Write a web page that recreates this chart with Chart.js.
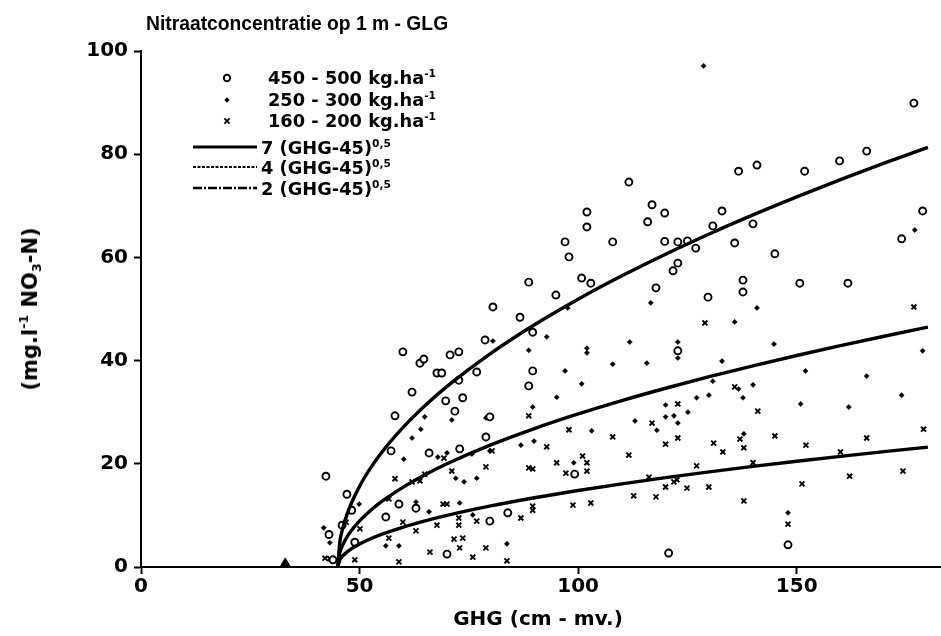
<!DOCTYPE html>
<html lang="nl">
<head>
  <meta charset="UTF-8" />
  <title>Nitraatconcentratie op 1 m - GLG</title>
  <style>
    body { margin: 0; background: #fff; }
    #wrap { position: relative; width: 941px; height: 636px; color: #000; }
    canvas { position: absolute; left: 0; top: 0; }
    .lbl { position: absolute; white-space: nowrap; font-weight: bold; line-height: 18px; }
    .title { font-family: "Liberation Sans", Arial, sans-serif; font-size: 19.3px; left: 146px; top: 15px; }
    .leg { font-family: "DejaVu Sans", sans-serif; font-size: 17.8px; }
    .axt { font-family: "DejaVu Sans", sans-serif; font-size: 20px; }
    sup { font-size: 0.6em; vertical-align: 0.7em; line-height: 0; }
    sub { font-size: 0.6em; vertical-align: -0.3em; line-height: 0; }
    .legsvg { position: absolute; left: 185px; top: 60px; }
  </style>
</head>
<body>
<div id="wrap">
  <canvas id="chart" width="941" height="636"></canvas>

  <div class="lbl title">Nitraatconcentratie op 1 m - GLG</div>

  <svg class="legsvg" width="80" height="140">
    <circle cx="42" cy="18" r="3.2" fill="#fff" stroke="#000" stroke-width="1.9"/>
    <path d="M42 37.3 L44.6 40 L42 42.7 L39.4 40 Z" fill="#000"/>
    <path d="M39.4 58.4 L44.6 63.6 M44.6 58.4 L39.4 63.6" stroke="#000" stroke-width="1.9"/>
    <line x1="8" y1="87" x2="72" y2="87" stroke="#000" stroke-width="3"/>
    <line x1="8" y1="107" x2="72" y2="107" stroke="#000" stroke-width="2" stroke-dasharray="3 1.5"/>
    <line x1="8" y1="128" x2="72" y2="128" stroke="#000" stroke-width="2.5" stroke-dasharray="9 2 2 2"/>
  </svg>
  <div class="lbl leg" style="left:268px; top:69px">450 - 500 kg.ha<sup>-1</sup></div>
  <div class="lbl leg" style="left:268px; top:91px">250 - 300 kg.ha<sup>-1</sup></div>
  <div class="lbl leg" style="left:268px; top:112px">160 - 200 kg.ha<sup>-1</sup></div>
  <div class="lbl leg" style="left:261px; top:139px">7 (GHG-45)<sup>0,5</sup></div>
  <div class="lbl leg" style="left:261px; top:159px">4 (GHG-45)<sup>0,5</sup></div>
  <div class="lbl leg" style="left:261px; top:180px">2 (GHG-45)<sup>0,5</sup></div>

  <div class="lbl axt" style="left:438px; width:200px; text-align:center; top:609px">GHG (cm - mv.)</div>
  <div class="lbl axt" style="left:30px; top:309px; font-size:21px; transform: translate(-50%, -50%) rotate(-90deg);">(mg.l<sup>-1</sup> NO<sub>3</sub>-N)</div>
</div>

<script src="https://cdn.jsdelivr.net/npm/chart.js"></script>
<script>
  // axis ticks
  const xTicks = [0, 50, 100, 150];
  const yTicks = [0, 20, 40, 60, 80, 100];

  // 450 - 500 kg.ha-1 (open circles)
  const pts450 = [
    [42.3,17.6],[43,6.3],[43.9,1.4],[46,8.1],[47.1,14.1],[48.2,11.0],[48.9,4.8],[56,9.7],[57.2,22.5],
    [58.1,29.3],[59,12.2],[59.9,41.7],[62,33.9],[62.9,11.4],[63.8,39.5],[64.7,40.3],[65.9,22.1],
    [67.7,37.6],[68.8,37.6],[69.7,32.2],[70,2.5],[70.7,41.1],[71.8,30.2],[72.7,41.7],[72.7,36.2],
    [72.9,22.9],[73.6,32.8],[76.8,37.8],[78.7,44],[78.9,25.2],[79.8,29.1],[79.8,8.9],[80.5,50.4],
    [83.9,10.5],[86.7,48.4],[88.7,55.2],[88.7,35.1],[89.6,45.5],[89.6,38],[94.9,52.7],[97,63],
    [97.9,60.1],[99.2,18],[100.8,56],[102,68.8],[102,65.9],[102.9,55],[107.9,63],[111.6,74.6],
    [115.9,66.9],[116.9,70.2],[117.8,54.1],[119.8,68.6],[119.8,63.1],[120.7,2.7],[121.7,57.4],
    [122.8,63],[122.8,58.9],[122.8,41.9],[125,63.2],[126.9,61.8],[129.7,52.3],[130.8,66.1],
    [132.9,69],[135.8,62.8],[136.7,76.7],[137.7,55.6],[137.7,53.3],[140,66.5],[140.9,77.9],
    [145,60.7],[148,4.3],[150.7,55],[151.8,76.7],[159.8,78.7],[161.7,55],[166,80.6],[174,63.6],
    [176.8,89.9],[178.8,69]
  ];

  // 250 - 300 kg.ha-1 (small dots)
  const pts250 = [
    [41.8,7.6],[43.2,4.7],[49.9,12.2],[56,4.1],[59,4.1],[60.1,20.9],[62,25],[62.9,12.6],[64,26.7],
    [64.9,29.1],[65.9,10.7],[67.9,21.3],[70,22.1],[71.1,28.5],[72,17.2],[72.9,12.4],[73.9,16.5],
    [75.7,21.9],[75.9,10.1],[76.8,17.2],[78.9,28.9],[79.8,22.5],[80.5,43.8],[83.7,4.5],[86.9,23.6],
    [88.7,42],[89.6,31],[89.9,24.4],[92.8,44.6],[95.1,32.9],[97,38],[97.6,50.2],[99,20.2],
    [100.8,35.5],[102,42.4],[102,41.5],[103.1,26.4],[107.9,39.3],[111.8,43.6],[113,28.3],
    [115.7,39.5],[116.6,51.2],[118,26.5],[120,31.4],[120,29.1],[121.9,29.3],[122.8,43.6],
    [122.8,40.5],[122.8,27.9],[125.1,30],[127.1,32.8],[128.7,97.1],[129.9,33.3],[130.8,36],
    [132.9,39.9],[135.8,47.5],[136.7,34.5],[137.7,32.8],[137.9,25.8],[140,35.3],[140.9,50.2],
    [144.8,43.2],[148,10.5],[150.9,31.6],[152,38],[161.9,31],[166,37],[174,33.3],[177,65.3],
    [178.8,41.9]
  ];

  // 160 - 200 kg.ha-1 (crosses)
  const pts160 = [
    [42.1,1.7],[43.2,1.6],[46.9,8.7],[48.9,1.4],[50.1,7.4],[56.7,13.2],[56.7,5.6],[58.1,17.1],
    [59,1],[59.9,8.7],[62,16.5],[62.9,7],[63.8,16.7],[64.9,18],[66.1,2.9],[67.7,8.1],[69.1,12.2],
    [69.3,21.1],[70,12.2],[71.1,18.6],[71.6,5.4],[72.7,9.5],[72.7,8.1],[72.9,3.7],[73.6,5.6],
    [75.9,1.9],[76.8,8.9],[78.9,19.4],[78.9,3.7],[80.3,22.5],[83.7,1.2],[86.9,9.5],[88.7,29.3],
    [88.7,19.2],[89.6,19],[89.6,11.8],[89.6,11],[92.8,23.3],[95.1,20.2],[97.2,18.2],[97.9,26.6],
    [98.8,12],[101,21.5],[102,20.2],[102,18.6],[102.9,12.4],[107.9,25.2],[111.6,21.7],[112.7,13.8],
    [116.2,17.4],[116.9,27.9],[117.8,13.6],[120,23.8],[120,15.5],[121.9,16.5],[122.6,16.9],
    [122.8,31.6],[122.8,25],[124.9,15.3],[127.1,19.6],[129,47.3],[129.9,15.5],[131,24],
    [133.1,22.3],[135.8,34.9],[137,24.8],[137.9,23.1],[137.9,12.8],[140,20.2],[141.1,30.2],
    [145,25.4],[148,8.3],[151.2,16.1],[152.1,23.6],[160,22.3],[162.1,17.6],[166,25],[174.3,18.6],
    [176.8,50.4],[179,26.7]
  ];

  // lone triangle on the x axis
  const ptsTriangle = [[33, 0.6]];

  const curveX = [45, 45.5, 46, 47, 48, 50, 52, 55, 60, 65, 70, 80, 90, 100, 110, 120, 130, 140, 150, 160, 170, 180];
  const curve7 = [0, 4.95, 7, 9.9, 12.12, 15.65, 18.52, 22.14, 27.11, 31.3, 35, 41.41, 46.96, 51.91, 56.43, 60.62, 64.54, 68.23, 71.73, 75.07, 78.26, 81.33];
  const curve4 = [0, 2.83, 4, 5.66, 6.93, 8.94, 10.58, 12.65, 15.49, 17.89, 20, 23.66, 26.83, 29.66, 32.25, 34.64, 36.88, 38.99, 40.99, 42.9, 44.72, 46.48];
  const curve2 = [0, 1.41, 2, 2.83, 3.46, 4.47, 5.29, 6.32, 7.75, 8.94, 10, 11.83, 13.42, 14.83, 16.12, 17.32, 18.44, 19.49, 20.49, 21.45, 22.36, 23.24];

  const toXY = arr => arr.map(p => ({ x: p[0], y: p[1] }));
  const curve = ys => curveX.map((x, i) => ({ x: x, y: ys[i] }));

  const lineStyle = {
    type: 'line', showLine: true, borderColor: '#000', borderWidth: 3.4,
    pointRadius: 0, fill: false, cubicInterpolationMode: 'monotone', order: 0
  };

  const tickFont = { family: 'DejaVu Sans', size: 20, weight: 'bold' };

  new Chart(document.getElementById('chart'), {
    type: 'scatter',
    data: {
      datasets: [
        Object.assign({ data: curve(curve7) }, lineStyle),
        Object.assign({ data: curve(curve4) }, lineStyle),
        Object.assign({ data: curve(curve2) }, lineStyle),
        { data: toXY(pts450), pointStyle: 'circle', pointRadius: 3.5, borderWidth: 1.9,
          borderColor: '#000', backgroundColor: '#fff', order: 1 },
        { data: toXY(pts250), pointStyle: 'rectRot', pointRadius: 2.6, borderWidth: 0.5,
          borderColor: '#000', backgroundColor: '#000', order: 1 },
        { data: toXY(pts160), pointStyle: 'crossRot', pointRadius: 3.5, borderWidth: 1.9,
          borderColor: '#000', backgroundColor: '#000', order: 1 },
        { data: toXY(ptsTriangle), pointStyle: 'triangle', pointRadius: 6, borderWidth: 1,
          borderColor: '#000', backgroundColor: '#000', order: 1 }
      ]
    },
    options: {
      responsive: false,
      animation: false,
      devicePixelRatio: 1,
      layout: { autoPadding: false, padding: { top: 51, right: 0, bottom: 0, left: 0 } },
      plugins: { legend: { display: false }, tooltip: { enabled: false } },
      scales: {
        x: {
          type: 'linear', min: 0, max: 183,
          afterBuildTicks: s => { s.ticks = xTicks.map(v => ({ value: v })); },
          afterFit: s => { s.height = 69; },
          border: { color: '#000', width: 2 },
          grid: { drawOnChartArea: false, drawTicks: true, tickLength: 7, tickWidth: 2, tickColor: '#000' },
          ticks: { color: '#000', font: tickFont, padding: 1, maxRotation: 0 }
        },
        y: {
          type: 'linear', min: 0, max: 100,
          afterBuildTicks: s => { s.ticks = yTicks.map(v => ({ value: v })); },
          afterFit: s => { s.width = 141; },
          border: { color: '#000', width: 2 },
          grid: { drawOnChartArea: false, drawTicks: true, tickLength: 7, tickWidth: 2, tickColor: '#000' },
          ticks: { color: '#000', font: tickFont, padding: 6 }
        }
      }
    }
  });
</script>
</body>
</html>
